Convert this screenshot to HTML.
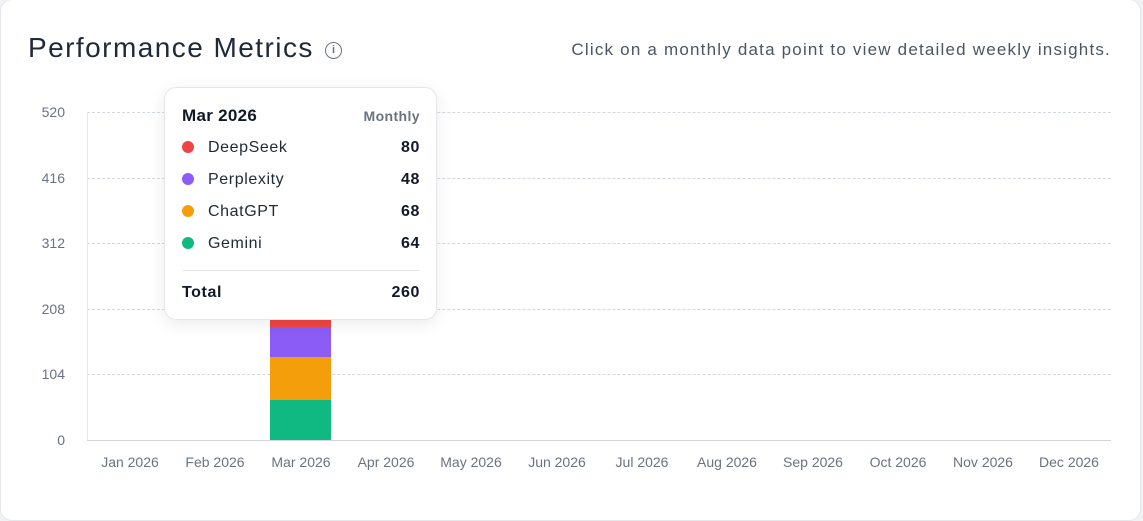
<!DOCTYPE html>
<html><head><style>
body{margin:0;width:1143px;height:521px;background:#f1f2f4;position:relative;overflow:hidden;font-family:"Liberation Sans",sans-serif;}
.card{position:absolute;left:0;top:-1px;width:1139px;height:520px;background:#fff;border:1px solid #e5e7eb;border-radius:12px;}
.t{position:absolute;white-space:nowrap;}
.yl{position:absolute;left:20px;width:45px;text-align:right;font-size:14px;color:#6b7280;}
.xl{position:absolute;top:454px;width:86px;text-align:center;font-size:14px;color:#6b7280;}
.grid{position:absolute;left:87px;width:1024px;border-top:1px dashed #d3d8e0;}
.tip{position:absolute;left:164px;top:87px;width:271px;height:231px;background:#fff;border:1px solid #e5e7eb;border-radius:12px;box-shadow:0 4px 16px rgba(0,0,0,0.08);}
.row{position:absolute;left:17px;width:238px;font-size:16px;color:#1f2937;letter-spacing:0.6px;}
.row .d{position:absolute;left:0;top:2px;width:12px;height:12px;border-radius:50%;}
.row .n{position:absolute;left:26px;}
.row .v{position:absolute;right:0;font-weight:bold;color:#111827;}
</style></head><body>
<div class="card"></div>
<div class="t" style="left:28px;top:32px;font-size:28px;color:#1f2937;letter-spacing:1.45px;">Performance Metrics</div>
<div style="position:absolute;left:325px;top:42px;width:17px;height:17px;border:1.6px solid #6b7280;border-radius:50%;box-sizing:border-box;font-size:11px;font-weight:bold;color:#6b7280;text-align:center;line-height:14px;">i</div>
<div class="t" style="right:32px;top:40px;font-size:17px;color:#4b5563;letter-spacing:1.2px;">Click on a monthly data point to view detailed weekly insights.</div>

<div class="grid" style="top:112px"></div>
<div class="grid" style="top:178px"></div>
<div class="grid" style="top:243px"></div>
<div class="grid" style="top:309px"></div>
<div class="grid" style="top:374px"></div>
<div style="position:absolute;left:87px;top:440px;width:1024px;height:1px;background:#d1d5db"></div>
<div style="position:absolute;left:87px;top:112px;width:1px;height:328px;background:#e5e7eb"></div>

<div class="yl" style="top:104px">520</div>
<div class="yl" style="top:170px">416</div>
<div class="yl" style="top:235px">312</div>
<div class="yl" style="top:301px">208</div>
<div class="yl" style="top:366px">104</div>
<div class="yl" style="top:432px">0</div>

<div class="xl" style="left:87px">Jan 2026</div>
<div class="xl" style="left:172px">Feb 2026</div>
<div class="xl" style="left:258px">Mar 2026</div>
<div class="xl" style="left:343px">Apr 2026</div>
<div class="xl" style="left:428px">May 2026</div>
<div class="xl" style="left:514px">Jun 2026</div>
<div class="xl" style="left:599px">Jul 2026</div>
<div class="xl" style="left:684px">Aug 2026</div>
<div class="xl" style="left:770px">Sep 2026</div>
<div class="xl" style="left:855px">Oct 2026</div>
<div class="xl" style="left:940px">Nov 2026</div>
<div class="xl" style="left:1026px">Dec 2026</div>

<div style="position:absolute;left:270px;top:276px;width:61px;height:51px;background:#ef4444"></div>
<div style="position:absolute;left:270px;top:327px;width:61px;height:30px;background:#8b5cf6"></div>
<div style="position:absolute;left:270px;top:357px;width:61px;height:43px;background:#f59e0b"></div>
<div style="position:absolute;left:270px;top:400px;width:61px;height:40px;background:#10b981"></div>

<div class="tip">
<div class="t" style="left:17px;top:18px;font-size:17px;font-weight:bold;color:#111827;letter-spacing:0.3px;">Mar 2026</div>
<div class="t" style="right:16px;top:20px;font-size:14px;font-weight:bold;color:#6b7280;letter-spacing:0.4px;">Monthly</div>
<div class="row" style="top:51px"><span class="d" style="background:#ef4444"></span><span class="n">DeepSeek</span><span class="v">80</span></div>
<div class="row" style="top:83px"><span class="d" style="background:#8b5cf6"></span><span class="n">Perplexity</span><span class="v">48</span></div>
<div class="row" style="top:115px"><span class="d" style="background:#f59e0b"></span><span class="n">ChatGPT</span><span class="v">68</span></div>
<div class="row" style="top:147px"><span class="d" style="background:#10b981"></span><span class="n">Gemini</span><span class="v">64</span></div>
<div style="position:absolute;left:17px;top:182px;width:238px;height:1px;background:#e5e7eb"></div>
<div class="row" style="top:196px;font-weight:bold;color:#111827;"><span style="position:absolute;left:0">Total</span><span class="v">260</span></div>
</div>
</body></html>
